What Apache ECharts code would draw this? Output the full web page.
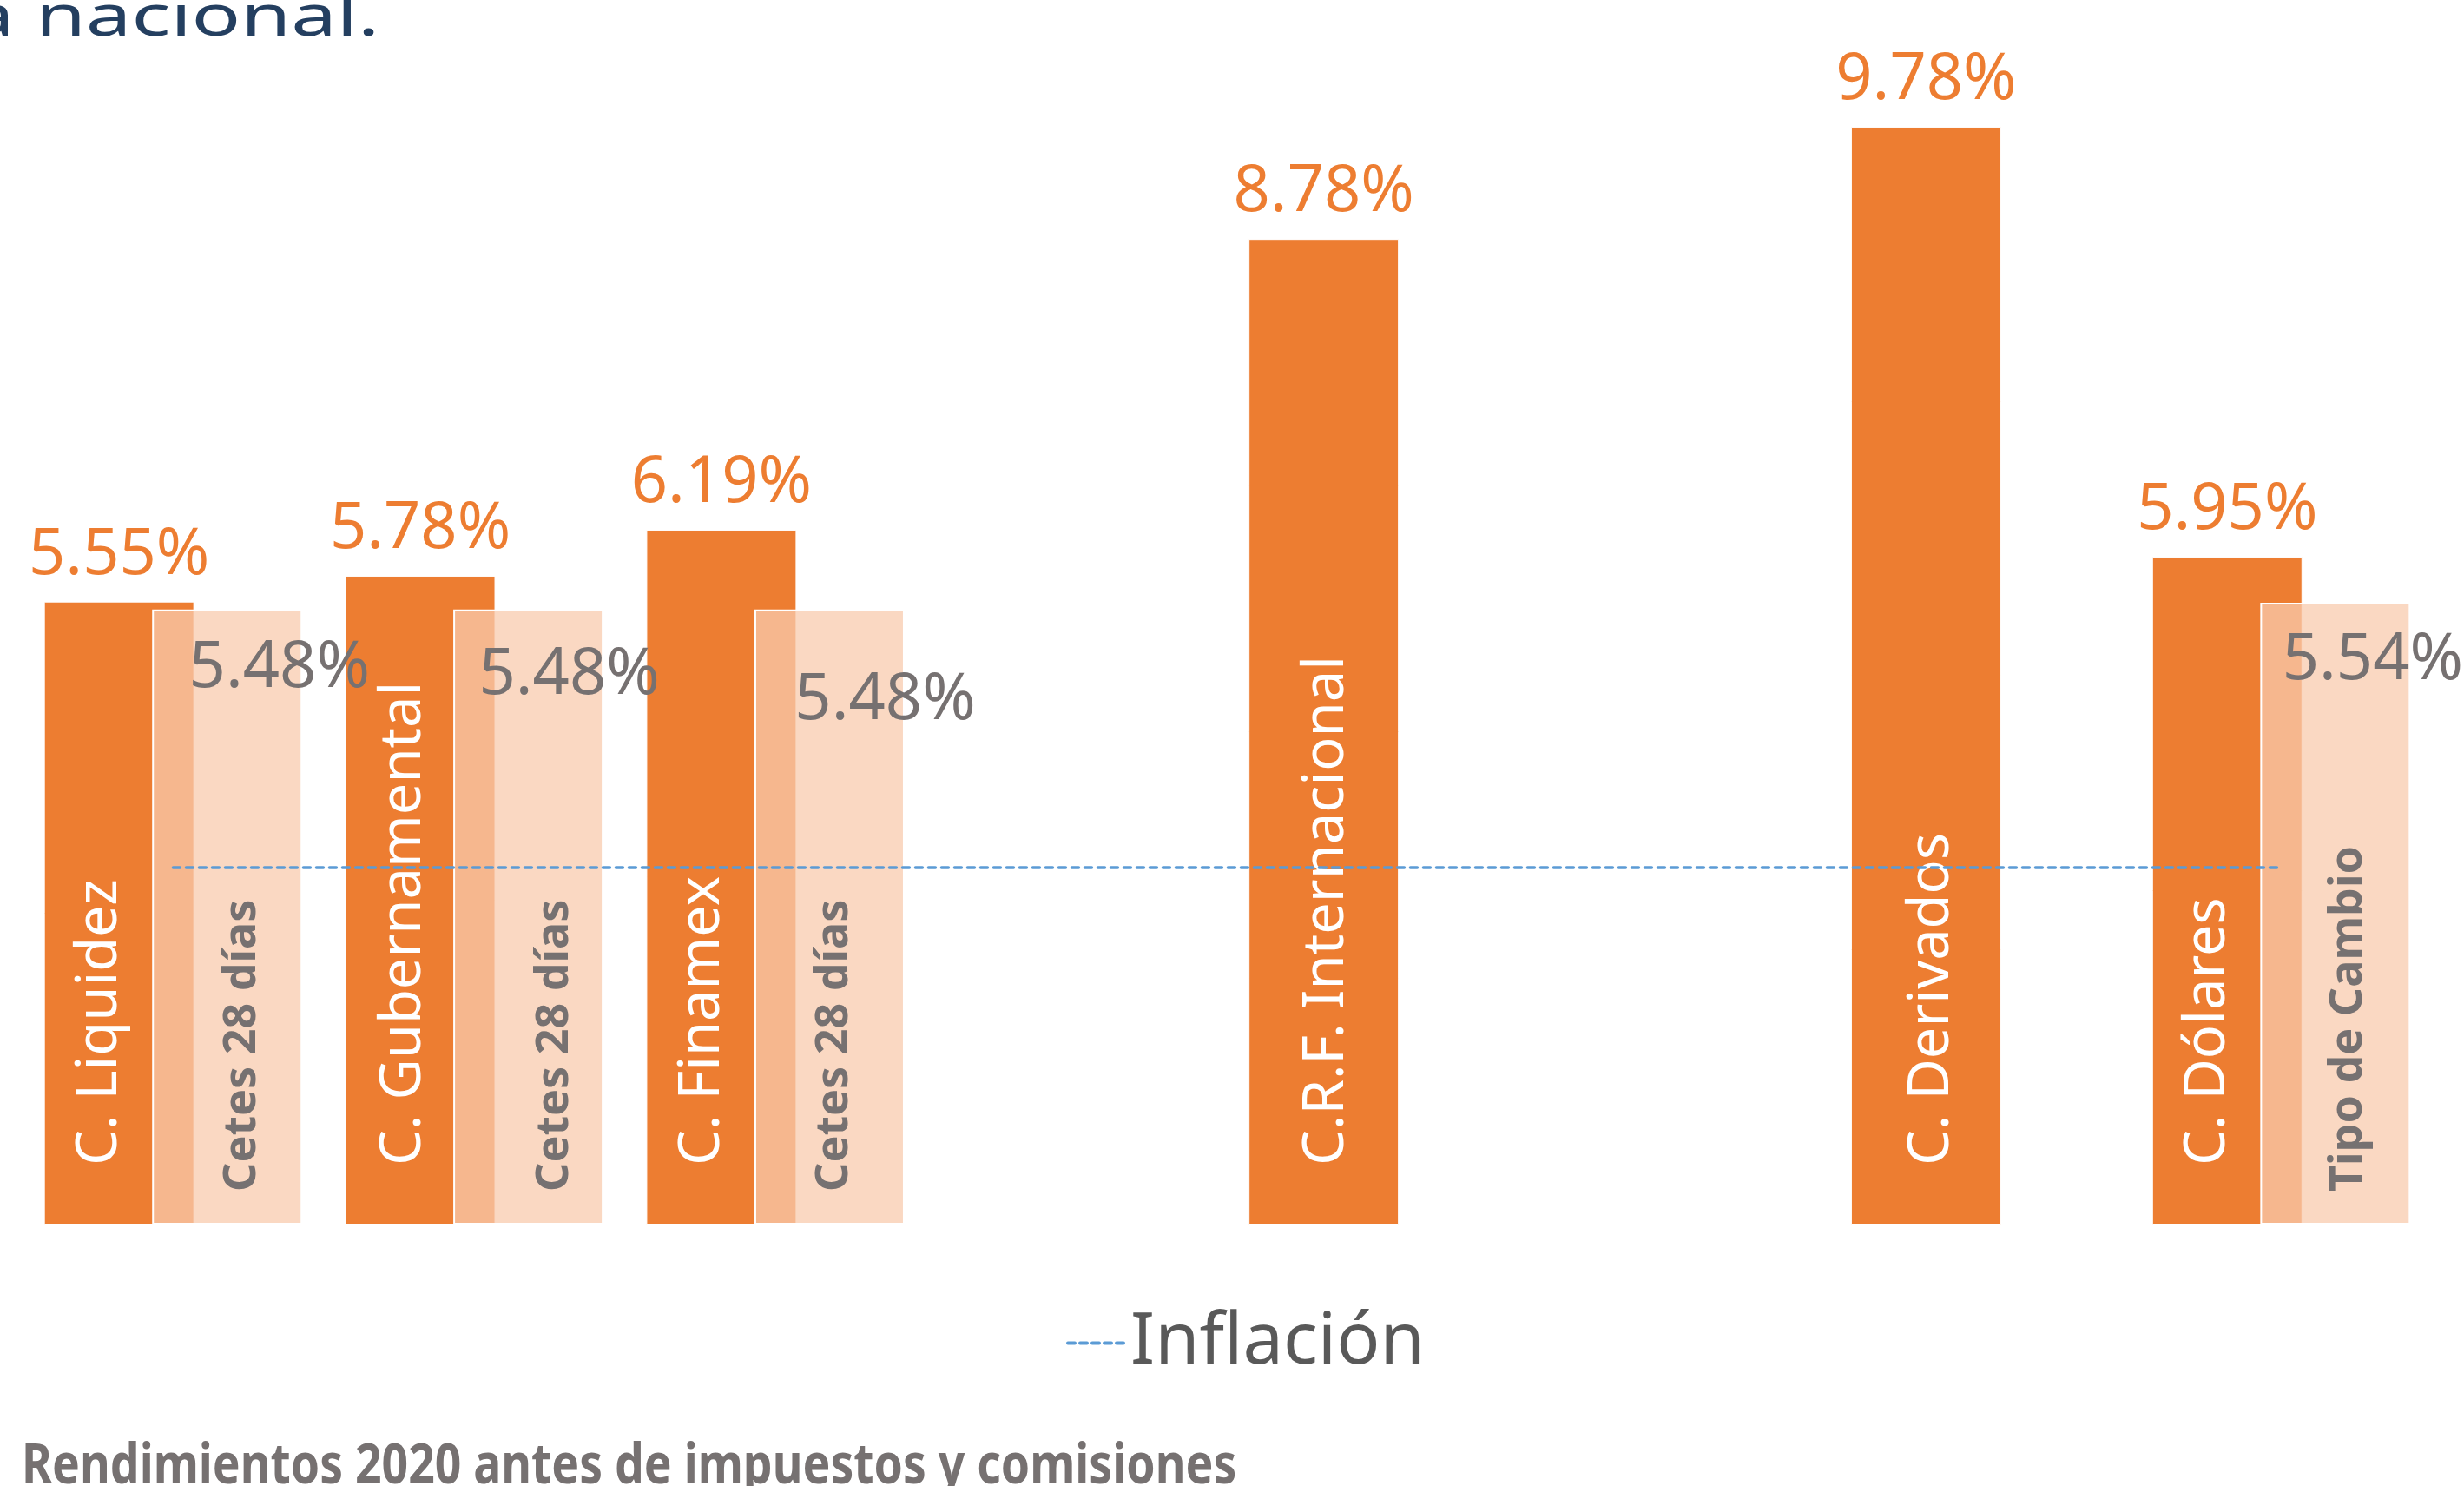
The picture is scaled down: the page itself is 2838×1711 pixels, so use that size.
<!doctype html>
<html>
<head>
    <meta charset="utf-8">
    <title>Rendimientos 2020</title>
    <script type="text/javascript" src="https://cdn.jsdelivr.net/npm/echarts@6/dist/echarts.min.js"></script>
</head>
<body style="margin:0;padding:0;background:#fff;">
    <div id="tb" style="width:2838px;height:1711px;"></div>
    <script>
        // datos
        var categorias = ['C. Liquidez', 'C. Gubernamental', 'C. Finamex', ' ', 'C.R.F. Internacional', '  ', 'C. Derivados', 'C. Dólares'];
        var fondos = [5.55, 5.78, 6.19, null, 8.78, null, 9.78, 5.95];
        var referencias = [5.48, 5.48, 5.48, null, null, null, null, 5.54];
        var nombresRef = ['Cetes 28 días', 'Cetes 28 días', 'Cetes 28 días', '', '', '', '', 'Tipo de Cambio'];
        var inflacion = [3.18, 3.18, 3.18, 3.18, 3.18, 3.18, 3.18, 3.18];

        // desplazamiento horizontal de etiquetas (en el original se movieron a mano)
        // las etiquetas giradas usan offset en su propio marco: [a lo largo, a la derecha]
        var despNombreFondo = [-22, -19, -21, 0, 4, 0, 7, -22];
        var despNombreRef = [17, 31, 6, 0, 0, 0, 0, 15];
        var despValorRef = [[60, 31], [47, 39], [64, 68], [0, 0], [0, 0], [0, 0], [0, 0], [43, 30]];

        var fuente = 'Noto Sans';
        var naranja = '#ED7D31';
        var gris = '#767171';
        var azul = '#5B9BD5';

        function vacio(v) { return v === null || v === undefined; }

        var fondoData = fondos.map(function (v, i) {
            return vacio(v) ? '-' : { value: v, label: { offset: [0, despNombreFondo[i]] } };
        });
        var fondoTope = fondos.map(function (v) { return vacio(v) ? '-' : 0; });
        var refData = referencias.map(function (v, i) {
            return vacio(v) ? '-' : { value: v, label: { offset: [0, despNombreRef[i]] } };
        });
        var refTope = referencias.map(function (v, i) {
            return vacio(v) ? '-' : { value: 0, label: { offset: despValorRef[i] } };
        });

        var chart = echarts.init(document.getElementById('tb'));
        chart.setOption({
            animation: false,
            grid: { left: 26, right: 37, top: 117.5, bottom: 301 },
            xAxis: {
                type: 'category',
                data: categorias,
                show: false
            },
            yAxis: { type: 'value', min: 0, max: 10, show: false },
            legend: {
                data: ['Inflación'],
                left: 1223,
                top: 1500,
                itemWidth: 67,
                itemHeight: 14,
                itemStyle: { color: 'rgba(0,0,0,0)', borderColor: 'rgba(0,0,0,0)', borderWidth: 0 },
                lineStyle: { color: azul, width: 4, type: [8, 6], cap: 'round' },
                textStyle: { fontFamily: fuente, fontSize: 83, color: '#595959' }
            },
            graphic: [
                {
                    type: 'text', x: -36, y: 22, scaleX: 1.42,
                    style: { text: 'a nacional.', fill: '#243F60', fontFamily: fuente, fontSize: 66, verticalAlign: 'middle' }
                },
                {
                    type: 'text', x: 25, y: 1690, scaleX: 0.836,
                    style: { text: 'Rendimientos 2020 antes de impuestos y comisiones', fill: gris, fontFamily: fuente, fontWeight: 'bold', fontSize: 64, verticalAlign: 'middle' }
                }
            ],
            series: [
                {
                    name: 'Fondo', type: 'bar', stack: 'f', barWidth: 173,
                    data: fondoData,
                    itemStyle: { color: naranja, borderColor: '#fff', borderWidth: 1 },
                    label: {
                        show: true, position: 'insideBottom', rotate: 90, align: 'left', verticalAlign: 'middle',
                        distance: 68, color: '#fff', fontFamily: fuente, fontSize: 65,
                        formatter: function (p) { return categorias[p.dataIndex]; }
                    }
                },
                {
                    name: 'FondoValor', type: 'bar', stack: 'f', barWidth: 173,
                    data: fondoTope,
                    itemStyle: { color: 'rgba(0,0,0,0)' },
                    label: {
                        show: true, position: 'top', distance: 16, color: naranja, fontFamily: fuente, fontSize: 74,
                        formatter: function (p) { return fondos[p.dataIndex].toFixed(2) + '%'; }
                    }
                },
                {
                    name: 'Referencia', type: 'bar', stack: 'r', barWidth: 173,
                    data: refData,
                    itemStyle: { color: 'rgba(248,203,173,0.75)', borderColor: '#fff', borderWidth: 2 },
                    label: {
                        show: true, position: 'insideBottom', rotate: 90, align: 'left', verticalAlign: 'middle',
                        distance: 38, color: gris, fontFamily: fuente, fontSize: 52, fontWeight: 'bold',
                        formatter: function (p) { return nombresRef[p.dataIndex]; }
                    }
                },
                {
                    name: 'ReferenciaValor', type: 'bar', stack: 'r', barWidth: 173, barGap: '-28%',
                    data: refTope,
                    itemStyle: { color: 'rgba(0,0,0,0)' },
                    label: {
                        show: true, position: 'bottom', distance: 0, color: gris, fontFamily: fuente, fontSize: 74,
                        formatter: function (p) { return referencias[p.dataIndex].toFixed(2) + '%'; }
                    }
                },
                {
                    name: 'Inflación', type: 'line',
                    data: inflacion,
                    symbol: 'none',
                    lineStyle: { color: azul, width: 3.5, type: [8, 7], cap: 'round' },
                    itemStyle: { color: azul },
                    z: 5
                }
            ]
        });
    </script>
</body>
</html>
